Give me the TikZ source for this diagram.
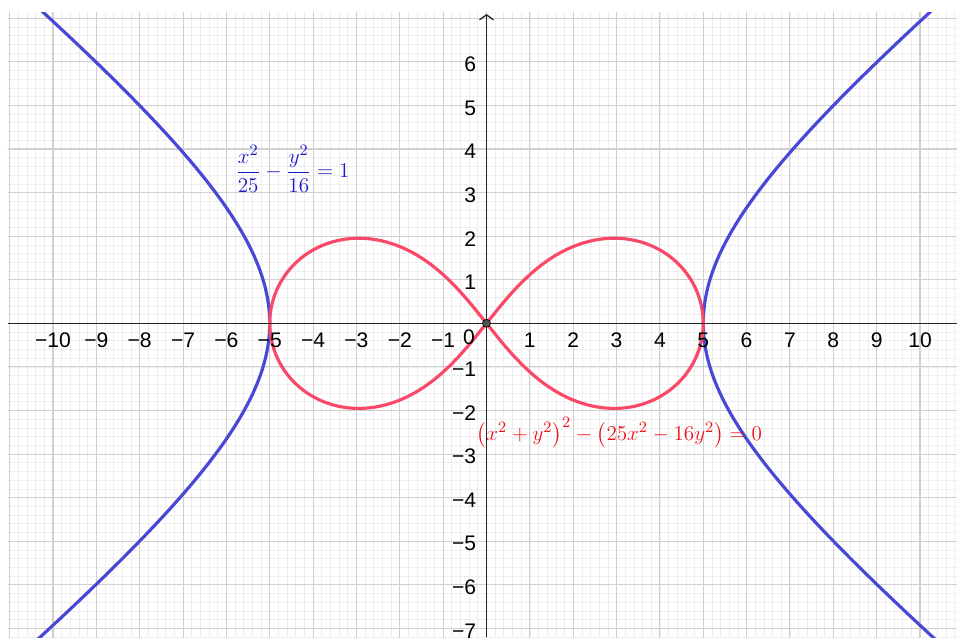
\documentclass[tikz,border=0pt]{standalone}
\usepackage{amsmath}
\usepackage{fontspec}
\setsansfont{Liberation Sans}
\usetikzlibrary{arrows.meta}
\definecolor{hypblue}{RGB}{72,72,214}
\definecolor{lemred}{RGB}{250,72,104}
\definecolor{majgrid}{RGB}{208,208,208}
\definecolor{mingrid}{RGB}{238,238,238}
\definecolor{axisgrey}{RGB}{37,37,37}
\definecolor{eqblue}{RGB}{25,25,200}
\definecolor{eqred}{RGB}{235,20,30}
\newcommand{\ticklab}[1]{\ifnum#1<0 −\number-#1\else#1\fi}

\begin{document}
\begin{tikzpicture}[x=0.867cm,y=0.8716cm,
  every node/.style={font=\sffamily\fontsize{12}{14}\selectfont},
  minorgrid/.style={draw=mingrid,line width=0.4pt},
  majorgrid/.style={draw=majgrid,line width=0.6pt},
  axisline/.style={draw=axisgrey,line width=0.75pt},
  curve/.style={line width=1.8pt,line join=round},
  ticklabel/.style={inner sep=0pt}]
\useasboundingbox (-11.2226,-7.1983) rectangle (10.8535,7.4186);
% grid, curves
\begin{scope}
  \clip (-11.04,-7.1983) rectangle (10.8535,7.143);
  \draw[minorgrid,step=0.2] (-11.2,-7.4) grid (11,7.4);
  \draw[majorgrid,step=1] (-11.2,-7.4) grid (11,7.4);
  \draw[curve,draw=hypblue,domain=-1.5:1.5,samples=120,smooth]
    plot ({5*cosh(\x)},{4*sinh(\x)});
  \draw[curve,draw=hypblue,domain=-1.5:1.5,samples=120,smooth]
    plot ({-5*cosh(\x)},{4*sinh(\x)});
  \draw[curve,draw=lemred,domain=-51.34:51.34,samples=301]
    plot ({sqrt(max(0,25*cos(\x)^2-16*sin(\x)^2))*cos(\x)},
          {sqrt(max(0,25*cos(\x)^2-16*sin(\x)^2))*sin(\x)});
  \draw[curve,draw=lemred,domain=-51.34:51.34,samples=301]
    plot ({-sqrt(max(0,25*cos(\x)^2-16*sin(\x)^2))*cos(\x)},
          {sqrt(max(0,25*cos(\x)^2-16*sin(\x)^2))*sin(\x)});
\end{scope}
% axes
\coordinate (xl) at (-11.04,0);
\coordinate (xr) at (10.8535,0);
\coordinate (yb) at (0,-7.1983);
\coordinate (yt) at (0,7.097);
\draw[axisline] (xl) -- (xr);
\draw[axisline,-{Straight Barb[length=1mm,width=2.8mm]}] (yb) -- (yt);
\node[circle,draw=black,fill=axisgrey!80,minimum size=0.16cm,inner sep=0pt] (o) at (0,0) {};
% tick labels
\foreach \i in {-10,...,-1,1,2,...,10}
  \node[ticklabel,yshift=-0.334cm] (xt\i) at (\i,0) {\ticklab{\i}};
\foreach \j in {-7,...,-1,1,2,...,6}
  \node[ticklabel,anchor=east,xshift=-0.2cm,yshift=-0.05cm] (yt\j) at (0,\j) {\ticklab{\j}};
\node[ticklabel,xshift=-0.35cm,yshift=-0.28cm] (zero) at (0,0) {0};
% equations
\node[text=eqblue,font=\fontsize{12.5}{15}\selectfont] (hyplab) at (-4.475,3.541)
  {$\dfrac{x^2}{25}-\dfrac{y^2}{16}=1$};
\node[text=eqred,font=\fontsize{12.5}{15}\selectfont] (lemlab) at (3.064,-2.506)
  {$\left(x^2+y^2\right)^2-\left(25x^2-16y^2\right)=0$};
\end{tikzpicture}
\end{document}
